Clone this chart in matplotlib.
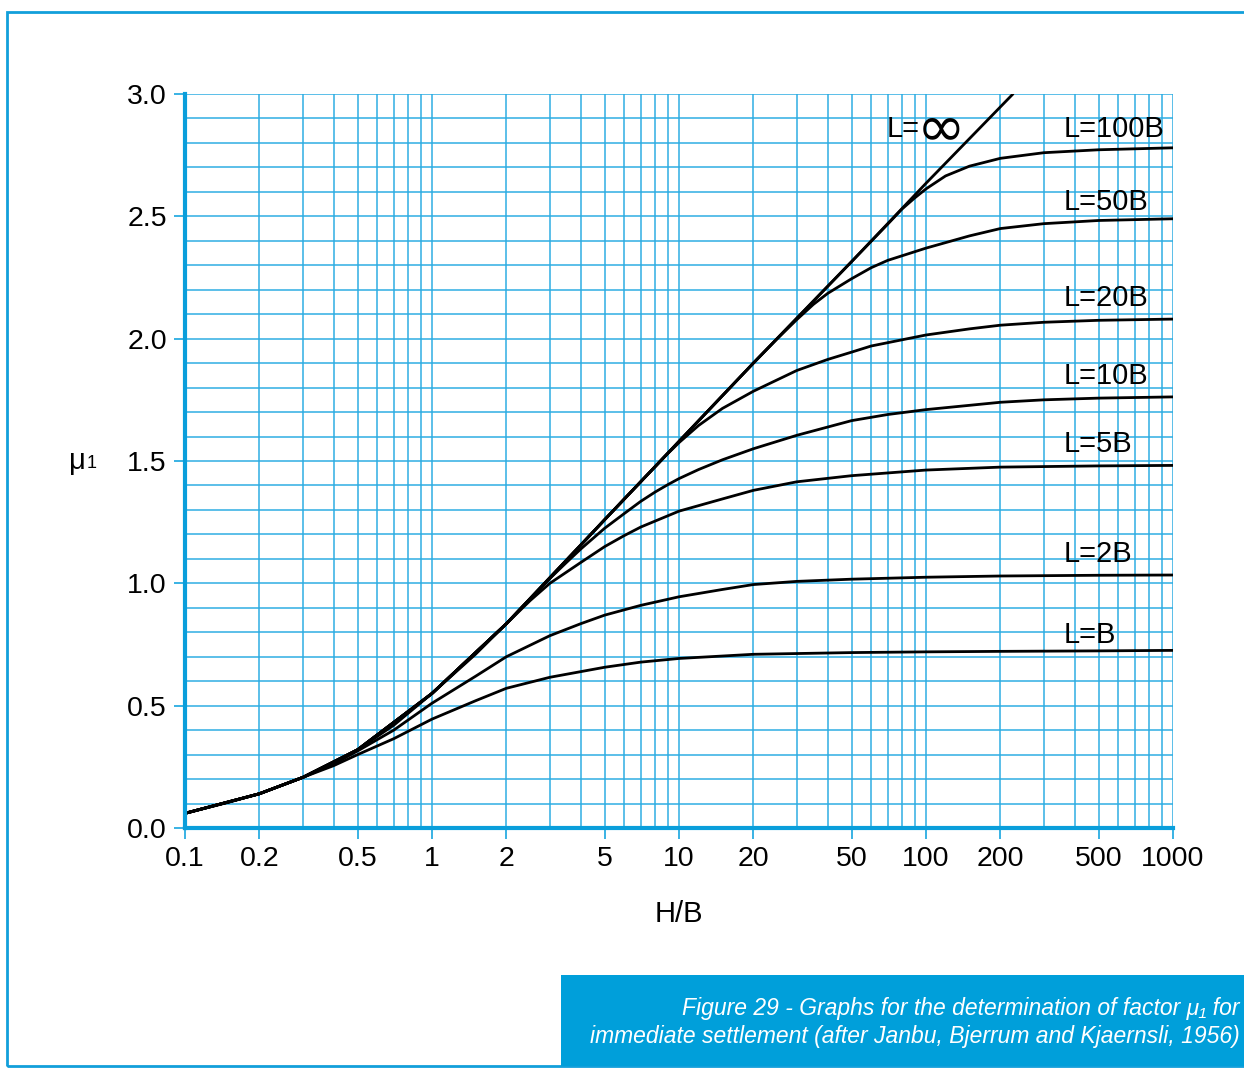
import matplotlib
matplotlib.use("Agg")
import matplotlib.pyplot as plt
from matplotlib.patches import Rectangle
from matplotlib.ticker import FixedLocator, MultipleLocator, NullFormatter

plt.rcParams['font.family'] = ['Liberation Sans', 'DejaVu Sans']

# values (H/B on a log axis, mu1)
x_inf = [0.1, 0.15, 0.2, 0.3, 0.4, 0.5, 0.7, 1, 1.5, 2, 3, 5, 10, 20, 50, 100, 225]
y_inf = [0.06, 0.105, 0.14, 0.207, 0.265, 0.32, 0.42, 0.55, 0.71, 0.835, 1.02, 1.26, 1.58, 1.90, 2.315, 2.635, 3.0]

x_100 = [0.1, 0.2, 0.3, 0.5, 1, 2, 5, 10, 20, 50, 70, 80, 90, 100, 120, 150, 200, 300, 500, 1000]
y_100 = [0.06, 0.14, 0.207, 0.32, 0.55, 0.835, 1.26, 1.58, 1.90, 2.315, 2.468, 2.53, 2.575, 2.612, 2.665, 2.705, 2.737, 2.76, 2.772, 2.78]

x_50 = [0.1, 0.2, 0.3, 0.5, 1, 2, 5, 10, 20, 25, 30, 35, 40, 50, 60, 70, 100, 150, 200, 300, 500, 1000]
y_50 = [0.06, 0.14, 0.207, 0.32, 0.55, 0.835, 1.26, 1.58, 1.90, 2.0, 2.078, 2.14, 2.185, 2.245, 2.29, 2.32, 2.37, 2.42, 2.45, 2.47, 2.483, 2.49]

x_20 = [0.1, 0.2, 0.3, 0.5, 1, 2, 5, 7, 9, 10, 12, 15, 20, 30, 40, 50, 60, 100, 150, 200, 300, 500, 1000]
y_20 = [0.06, 0.14, 0.207, 0.32, 0.55, 0.835, 1.26, 1.415, 1.53, 1.575, 1.645, 1.715, 1.785, 1.87, 1.915, 1.945, 1.97, 2.015, 2.04, 2.055, 2.067, 2.075, 2.08]

x_10 = [0.1, 0.2, 0.3, 0.5, 1, 2, 3, 3.5, 4, 5, 6, 7, 8, 9, 10, 12, 15, 20, 30, 50, 70, 100, 200, 300, 500, 1000]
y_10 = [0.06, 0.14, 0.207, 0.32, 0.55, 0.835, 1.02, 1.085, 1.14, 1.225, 1.285, 1.335, 1.373, 1.403, 1.428, 1.465, 1.505, 1.55, 1.605, 1.665, 1.69, 1.71, 1.74, 1.75, 1.757, 1.762]

x_5 = [0.1, 0.2, 0.3, 0.5, 1, 2, 2.5, 3, 4, 5, 6, 7, 10, 15, 20, 30, 50, 100, 200, 500, 1000]
y_5 = [0.06, 0.14, 0.207, 0.32, 0.55, 0.835, 0.93, 1.0, 1.085, 1.15, 1.195, 1.23, 1.295, 1.345, 1.38, 1.415, 1.44, 1.463, 1.475, 1.48, 1.482]

x_2 = [0.1, 0.2, 0.3, 0.4, 0.5, 0.7, 1, 1.5, 2, 3, 4, 5, 7, 10, 15, 20, 30, 50, 100, 200, 500, 1000]
y_2 = [0.06, 0.14, 0.207, 0.262, 0.315, 0.40, 0.51, 0.62, 0.70, 0.786, 0.835, 0.87, 0.91, 0.945, 0.975, 0.995, 1.008, 1.017, 1.025, 1.03, 1.033, 1.034]

x_1 = [0.1, 0.2, 0.3, 0.4, 0.5, 0.7, 1, 1.5, 2, 3, 5, 7, 10, 20, 50, 100, 200, 500, 1000]
y_1 = [0.06, 0.14, 0.207, 0.255, 0.30, 0.365, 0.445, 0.52, 0.571, 0.616, 0.657, 0.678, 0.693, 0.71, 0.717, 0.72, 0.722, 0.724, 0.726]

curve_labels = ['L=100B', 'L=50B', 'L=20B', 'L=10B', 'L=5B', 'L=2B', 'L=B']
label_y = [2.855, 2.56, 2.165, 1.846, 1.568, 1.118, 0.788]

x_ticks = [0.1, 0.2, 0.5, 1, 2, 5, 10, 20, 50, 100, 200, 500, 1000]
x_tick_labels = ['0.1', '0.2', '0.5', '1', '2', '5', '10', '20', '50', '100', '200', '500', '1000']
x_minor = [m * d for d in [0.1, 1, 10, 100] for m in range(1, 10)] + [1000]

BLUE = '#2aace2'
FRAME = '#129fda'

fig = plt.figure(figsize=(12.44, 10.68), dpi=100)
ax = fig.add_axes([0.1487, 0.2247, 0.7942, 0.6873])
ax.set_xscale('log')
ax.set_xlim(0.1, 1000)
ax.set_ylim(0, 3)

ax.xaxis.set_major_locator(FixedLocator(x_ticks))
ax.xaxis.set_minor_locator(FixedLocator(x_minor))
ax.set_xticklabels(x_tick_labels)
ax.xaxis.set_minor_formatter(NullFormatter())
ax.yaxis.set_major_locator(MultipleLocator(0.5))
ax.yaxis.set_minor_locator(MultipleLocator(0.1))
ax.yaxis.set_major_formatter(plt.FuncFormatter(lambda v, p: f'{v:.1f}'))

ax.grid(which='both', color=BLUE, linewidth=1.2, alpha=0.9)
ax.set_axisbelow(True)
ax.tick_params(which='major', length=8, width=1.3, color=BLUE, labelsize=20.5, pad=5)
ax.tick_params(which='minor', length=0)
for side in ['top', 'right']:
    ax.spines[side].set_visible(False)
for side in ['left', 'bottom']:
    ax.spines[side].set_color('#0a9edb')
    ax.spines[side].set_linewidth(3)

for xs, ys in [(x_inf, y_inf), (x_100, y_100), (x_50, y_50), (x_20, y_20),
               (x_10, y_10), (x_5, y_5), (x_2, y_2), (x_1, y_1)]:
    ax.plot(xs, ys, color='black', linewidth=2.0, solid_capstyle='round',
            solid_joinstyle='round')

for lab, ly in zip(curve_labels, label_y):
    ax.text(360, ly, lab, fontsize=21, ha='left', va='center')
ax.text(69, 2.855, 'L=', fontsize=21, ha='left', va='center')
ax.text(92, 2.86, '∞', fontsize=42, ha='left', va='center', family=['DejaVu Sans'])

ax.set_xlabel('H/B', fontsize=21, labelpad=20)
fig.text(69 / 1244, 1 - 461 / 1068, 'μ', fontsize=21, ha='left', va='center')
fig.text(87 / 1244, 1 - 463 / 1068, '1', fontsize=13, ha='left', va='center')

# outer frame and caption box
fig.patches.append(Rectangle((7 / 1244, 1 - 1066 / 1068), 1.0, (1066 - 12) / 1068,
                             transform=fig.transFigure, fill=False,
                             edgecolor=FRAME, linewidth=2))
fig.patches.append(Rectangle((561 / 1244, 1 - 1066 / 1068), 1.0, (1066 - 975) / 1068,
                             transform=fig.transFigure, facecolor='#009fda',
                             edgecolor='none'))
fig.text(1240 / 1244, 1 - 1008 / 1068,
         'Figure 29 - Graphs for the determination of factor μ₁ for',
         color='white', fontsize=16.5, style='italic', ha='right', va='center')
fig.text(1240 / 1244, 1 - 1037 / 1068,
         'immediate settlement (after Janbu, Bjerrum and Kjaernsli, 1956)',
         color='white', fontsize=16.5, style='italic', ha='right', va='center')

fig.savefig('out.png', dpi=100)
